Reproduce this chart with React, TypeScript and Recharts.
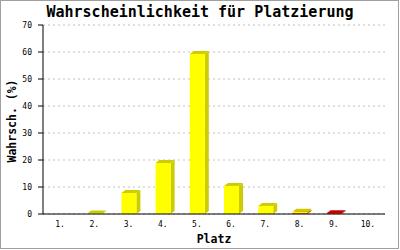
import { BarChart, Bar, XAxis, YAxis, CartesianGrid } from "recharts"

const places = ["1.", "2.", "3.", "4.", "5.", "6.", "7.", "8.", "9.", "10."]
const yellowValues = [0, 0.2, 7.8, 18.9, 59.3, 10.4, 3.0, 0.6, 0, 0]
const redValues = [0, 0, 0, 0, 0, 0, 0, 0.25, 0.25, 0]
const yTicks = [0, 10, 20, 30, 40, 50, 60, 70]

const data = places.map((p, i) => ({ place: p, yellow: yellowValues[i], red: redValues[i] }))

const mono = "'DejaVu Sans Mono', monospace"

// 3d block: front face plus top and right side, offset up-right
const makeBlock = (front: string, shade: string) => (props: any) => {
  const { x, y, width, height } = props
  if (!height || height <= 0) return <g />
  const dx = 4
  const dy = 3
  const top = `${x},${y} ${x + dx},${y - dy} ${x + width + dx},${y - dy} ${x + width},${y}`
  const side = `${x + width},${y} ${x + width + dx},${y - dy} ${x + width + dx},${y + height - dy} ${x + width},${y + height}`
  return (
    <g>
      <polygon points={side} fill={shade} />
      <polygon points={top} fill={shade} />
      <rect x={x} y={y} width={width} height={height} fill={front} />
    </g>
  )
}

export default function App() {
  return (
    <div style={{ position: "fixed", left: 0, top: 0, width: 400, height: 250, background: "#fff" }}>
      <div
        style={{
          position: "absolute", left: 0, top: 0, width: 399, height: 249,
          boxSizing: "border-box", border: "1px solid #a0a0a0", pointerEvents: "none",
        }}
      />
      <div
        style={{
          position: "absolute", left: 0, top: 3, width: 400, textAlign: "center",
          fontFamily: mono, fontWeight: "bold", fontSize: 15, lineHeight: "18px", color: "#000",
        }}
      >
        Wahrscheinlichkeit für Platzierung
      </div>
      <div
        style={{
          position: "absolute", left: 214, top: 231, transform: "translateX(-50%)",
          fontFamily: mono, fontWeight: "bold", fontSize: 11.5, lineHeight: "16px", color: "#000",
        }}
      >
        Platz
      </div>
      <div
        style={{
          position: "absolute", left: 12, top: 121, transform: "translate(-50%, -50%) rotate(-90deg)",
          fontFamily: mono, fontWeight: "bold", fontSize: 11.5, lineHeight: "14px", color: "#000",
          whiteSpace: "nowrap",
        }}
      >
        Wahrsch. (%)
      </div>
      <BarChart
        width={400}
        height={250}
        data={data}
        margin={{ top: 25, right: 15, bottom: 6, left: 0 }}
        barSize={15}
        style={{ position: "absolute", left: 0, top: 0 }}
      >
        <CartesianGrid horizontal vertical={false} stroke="#c0c0c0" strokeDasharray="2 3" />
        <XAxis
          dataKey="place"
          height={30}
          tickLine={false}
          axisLine={{ stroke: "#000" }}
          tick={{ fill: "#000", fontSize: 8, fontFamily: mono }}
          tickMargin={1}
        />
        <YAxis
          width={43}
          domain={[0, 70]}
          ticks={yTicks}
          interval={0}
          tickSize={5}
          tickMargin={6}
          tickLine={{ stroke: "#000" }}
          axisLine={{ stroke: "#000" }}
          tick={{ fill: "#000", fontSize: 8, fontFamily: mono }}
        />
        <YAxis
          yAxisId="right"
          orientation="right"
          width={0}
          domain={[0, 70]}
          tick={false}
          tickLine={false}
          axisLine={{ stroke: "#000" }}
        />
        <Bar dataKey="red" stackId="a" isAnimationActive={false} shape={makeBlock("#ff0000", "#cc0000")} />
        <Bar dataKey="yellow" stackId="a" isAnimationActive={false} shape={makeBlock("#ffff00", "#cccc00")} />
      </BarChart>
    </div>
  )
}
